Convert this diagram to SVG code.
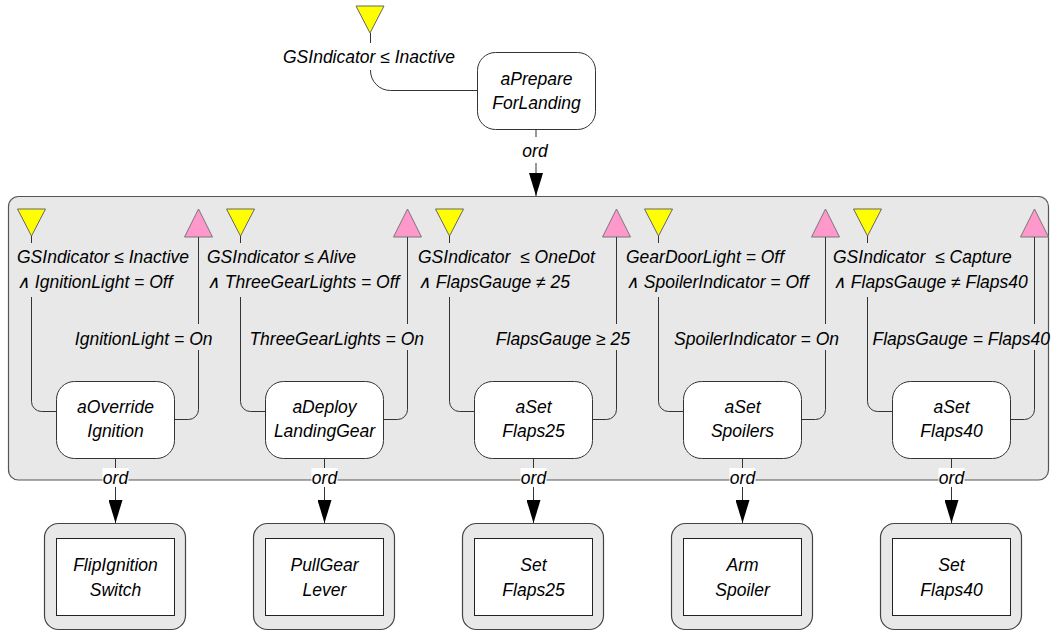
<svg xmlns="http://www.w3.org/2000/svg" width="1051" height="632" viewBox="0 0 1051 632">
<style>
text{font-family:"Liberation Sans",Arial,sans-serif;font-style:italic;font-size:17.5px;fill:#000}
.c{text-anchor:middle}
.e{text-anchor:end}
.ln{fill:none;stroke:#333;stroke-width:1}
.node{fill:#fff;stroke:#333;stroke-width:1}
.cont{fill:#e8e8e8;stroke:#555;stroke-width:1.2}
.outer{fill:#e8e8e8;stroke:#444;stroke-width:1.2}
.inner{fill:#fff;stroke:#222;stroke-width:1}
.yel{fill:#ffff00;stroke:#666;stroke-width:1}
.pink{fill:#ff99cc;stroke:#777;stroke-width:1}
.lbg{fill:#fff}
</style>
<defs>
<marker id="arr" markerUnits="userSpaceOnUse" markerWidth="23" markerHeight="14" refX="23" refY="7" orient="auto">
<path d="M0,0 L23,7 L0,14 z" fill="#000"/>
</marker>
</defs>

<g id="container">
<rect class="cont" x="8.5" y="196.5" width="1040" height="283.5" rx="10"/>
</g>

<g id="connectors">
<!-- top input -->
<polygon class="yel" points="356,6 384,6 370,33"/>
<path class="ln" d="M370.5,33 V43"/>
<path class="ln" d="M370.5,70 A20,20 0 0 0 390.5,90.5 H477"/>
<text x="283" y="63">GSIndicator ≤ Inactive</text>
<path class="ln" d="M536,129 V137"/>
<path class="ln" d="M536,163 V196" marker-end="url(#arr)"/>
<text class="c" x="535" y="157">ord</text>

<!-- column 1 -->
<polygon class="yel" points="17.5,209 45.5,209 31.5,236"/>
<polygon class="pink" points="198.5,209 212.5,237 184.5,237"/>
<path class="ln" d="M31.5,236 V243"/>
<path class="ln" d="M31.5,297 V401.5 A10,10 0 0 0 41.5,411.5 H56"/>
<path class="ln" d="M175,419.5 H188.5 A10,10 0 0 0 198.5,409.5 V350"/>
<path class="ln" d="M198.5,324 V237"/>
<text x="17" y="263">GSIndicator ≤ Inactive</text>
<text x="17" y="288">∧ IgnitionLight = Off</text>
<text class="e" x="212.5" y="345">IgnitionLight = On</text>
<path class="ln" d="M115.5,458 V468"/>
<path class="ln" d="M115.5,487 V523" marker-end="url(#arr)"/>
<rect class="lbg" x="102.5" y="468" width="26" height="19"/>
<text class="c" x="115.5" y="484">ord</text>

<!-- column 2 -->
<polygon class="yel" points="226.5,209 254.5,209 240.5,236"/>
<polygon class="pink" points="407.5,209 421.5,237 393.5,237"/>
<path class="ln" d="M240.5,236 V243"/>
<path class="ln" d="M240.5,297 V401.5 A10,10 0 0 0 250.5,411.5 H265"/>
<path class="ln" d="M384,419.5 H397.5 A10,10 0 0 0 407.5,409.5 V350"/>
<path class="ln" d="M407.5,324 V237"/>
<text x="207" y="263">GSIndicator ≤ Alive</text>
<text x="207" y="288">∧ ThreeGearLights = Off</text>
<text class="e" x="424" y="345">ThreeGearLights = On</text>
<path class="ln" d="M324.5,458 V468"/>
<path class="ln" d="M324.5,487 V523" marker-end="url(#arr)"/>
<rect class="lbg" x="311.5" y="468" width="26" height="19"/>
<text class="c" x="324.5" y="484">ord</text>

<!-- column 3 -->
<polygon class="yel" points="435.5,209 463.5,209 449.5,236"/>
<polygon class="pink" points="616.5,209 630.5,237 602.5,237"/>
<path class="ln" d="M449.5,236 V243"/>
<path class="ln" d="M449.5,297 V401.5 A10,10 0 0 0 459.5,411.5 H474"/>
<path class="ln" d="M593,419.5 H606.5 A10,10 0 0 0 616.5,409.5 V350"/>
<path class="ln" d="M616.5,324 V237"/>
<text x="418" y="263" xml:space="preserve">GSIndicator  ≤ OneDot</text>
<text x="418" y="288">∧ FlapsGauge ≠ 25</text>
<text class="e" x="630" y="345">FlapsGauge ≥ 25</text>
<path class="ln" d="M533.5,458 V468"/>
<path class="ln" d="M533.5,487 V523" marker-end="url(#arr)"/>
<rect class="lbg" x="520.5" y="468" width="26" height="19"/>
<text class="c" x="533.5" y="484">ord</text>

<!-- column 4 -->
<polygon class="yel" points="644.5,209 672.5,209 658.5,236"/>
<polygon class="pink" points="825.5,209 839.5,237 811.5,237"/>
<path class="ln" d="M658.5,236 V243"/>
<path class="ln" d="M658.5,297 V401.5 A10,10 0 0 0 668.5,411.5 H683"/>
<path class="ln" d="M802,419.5 H815.5 A10,10 0 0 0 825.5,409.5 V350"/>
<path class="ln" d="M825.5,324 V237"/>
<text x="626" y="263">GearDoorLight = Off</text>
<text x="626" y="288">∧ SpoilerIndicator = Off</text>
<text class="e" x="839" y="345">SpoilerIndicator = On</text>
<path class="ln" d="M742.5,458 V468"/>
<path class="ln" d="M742.5,487 V523" marker-end="url(#arr)"/>
<rect class="lbg" x="729.5" y="468" width="26" height="19"/>
<text class="c" x="742.5" y="484">ord</text>

<!-- column 5 -->
<polygon class="yel" points="853.5,209 881.5,209 867.5,236"/>
<polygon class="pink" points="1034.5,209 1048.5,237 1020.5,237"/>
<path class="ln" d="M867.5,236 V243"/>
<path class="ln" d="M867.5,297 V401.5 A10,10 0 0 0 877.5,411.5 H892"/>
<path class="ln" d="M1011,419.5 H1024.5 A10,10 0 0 0 1034.5,409.5 V350"/>
<path class="ln" d="M1034.5,324 V237"/>
<text x="833" y="263" xml:space="preserve">GSIndicator  ≤ Capture</text>
<text x="833" y="288">∧ FlapsGauge ≠ Flaps40</text>
<text class="e" x="1050" y="345">FlapsGauge = Flaps40</text>
<path class="ln" d="M951.5,458 V468"/>
<path class="ln" d="M951.5,487 V523" marker-end="url(#arr)"/>
<rect class="lbg" x="938.5" y="468" width="26" height="19"/>
<text class="c" x="951.5" y="484">ord</text>
</g>

<g id="aPrepareForLanding">
<rect class="node" x="477.5" y="52.5" width="118" height="77" rx="18"/>
<text class="c" x="536.5" y="85">aPrepare</text>
<text class="c" x="536.5" y="109">ForLanding</text>
</g>

<g id="aOverrideIgnition">
<rect class="node" x="56.5" y="381.5" width="118" height="77" rx="18"/>
<text class="c" x="115.5" y="413">aOverride</text>
<text class="c" x="115.5" y="437">Ignition</text>
</g>
<g id="aDeployLandingGear">
<rect class="node" x="265.5" y="381.5" width="118" height="77" rx="18"/>
<text class="c" x="324.5" y="413">aDeploy</text>
<text class="c" x="324.5" y="437">LandingGear</text>
</g>
<g id="aSetFlaps25">
<rect class="node" x="474.5" y="381.5" width="118" height="77" rx="18"/>
<text class="c" x="533.5" y="413">aSet</text>
<text class="c" x="533.5" y="437">Flaps25</text>
</g>
<g id="aSetSpoilers">
<rect class="node" x="683.5" y="381.5" width="118" height="77" rx="18"/>
<text class="c" x="742.5" y="413">aSet</text>
<text class="c" x="742.5" y="437">Spoilers</text>
</g>
<g id="aSetFlaps40">
<rect class="node" x="892.5" y="381.5" width="118" height="77" rx="18"/>
<text class="c" x="951.5" y="413">aSet</text>
<text class="c" x="951.5" y="437">Flaps40</text>
</g>

<g id="FlipIgnitionSwitch">
<rect class="outer" x="44.5" y="523.5" width="141" height="106" rx="14"/>
<rect class="inner" x="56.5" y="538.5" width="118" height="77"/>
<text class="c" x="115.5" y="571">FlipIgnition</text>
<text class="c" x="115.5" y="596">Switch</text>
</g>
<g id="PullGearLever">
<rect class="outer" x="253.5" y="523.5" width="141" height="106" rx="14"/>
<rect class="inner" x="265.5" y="538.5" width="118" height="77"/>
<text class="c" x="324.5" y="571">PullGear</text>
<text class="c" x="324.5" y="596">Lever</text>
</g>
<g id="SetFlaps25">
<rect class="outer" x="462.5" y="523.5" width="141" height="106" rx="14"/>
<rect class="inner" x="474.5" y="538.5" width="118" height="77"/>
<text class="c" x="533.5" y="571">Set</text>
<text class="c" x="533.5" y="596">Flaps25</text>
</g>
<g id="ArmSpoiler">
<rect class="outer" x="671.5" y="523.5" width="141" height="106" rx="14"/>
<rect class="inner" x="683.5" y="538.5" width="118" height="77"/>
<text class="c" x="742.5" y="571">Arm</text>
<text class="c" x="742.5" y="596">Spoiler</text>
</g>
<g id="SetFlaps40">
<rect class="outer" x="880.5" y="523.5" width="141" height="106" rx="14"/>
<rect class="inner" x="892.5" y="538.5" width="118" height="77"/>
<text class="c" x="951.5" y="571">Set</text>
<text class="c" x="951.5" y="596">Flaps40</text>
</g>
</svg>
